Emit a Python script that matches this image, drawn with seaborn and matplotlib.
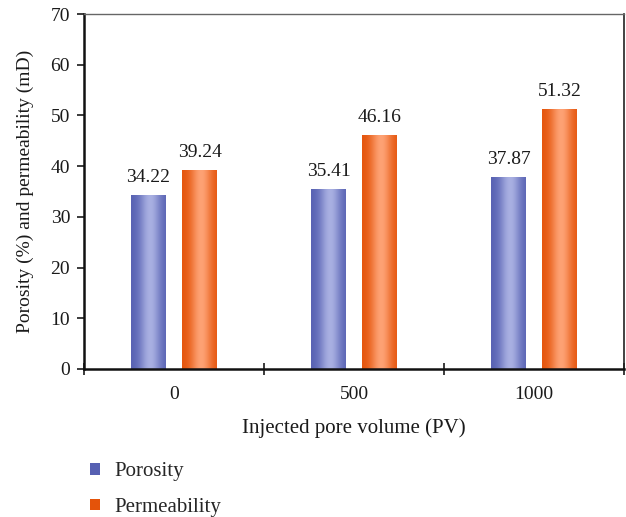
import numpy as np
import pandas as pd
import matplotlib
matplotlib.use("Agg")
import matplotlib.pyplot as plt
import seaborn as sns
from matplotlib.colors import to_rgb
from matplotlib.patches import Patch

# Injected pore volume levels and measured properties
volumes = ["0", "500", "1000"]
porosity = [34.22, 35.41, 37.87]
permeability = [39.24, 46.16, 51.32]
series = ["Porosity", "Permeability"]

sns.set_theme(style="white")
plt.rcParams["font.family"] = ["Liberation Serif", "DejaVu Serif"]

df = pd.DataFrame({
    "volume": volumes * 2,
    "value": porosity + permeability,
    "series": [series[0]] * 3 + [series[1]] * 3,
})

# dark edge / light centre tones of each bar
shades = {
    "Porosity": ("#5660b2", "#a9b0e2"),
    "Permeability": ("#e4530a", "#fea274"),
}

fig = plt.figure(figsize=(6.26, 5.17), dpi=100)
ax = fig.add_axes([0.1342, 0.2863, 0.8626, 0.6866])

sns.barplot(data=df, x="volume", y="value", hue="series", order=volumes,
            hue_order=series, palette={k: v[0] for k, v in shades.items()},
            width=0.567, gap=0.33, ax=ax, legend=False, saturation=1,
            linewidth=0, errorbar=None)

def gradient(dark, light, n=256):
    t = np.linspace(0, 1, n)
    w = np.exp(-((t - 0.55) / 0.30) ** 2)
    d, l = np.array(to_rgb(dark)), np.array(to_rgb(light))
    return (d[None, :] * (1 - w[:, None]) + l[None, :] * w[:, None])[None, :, :]

for name, container in zip(series, ax.containers):
    img = gradient(*shades[name])
    for bar in container:
        x0, y0 = bar.get_x(), bar.get_y()
        x1, y1 = x0 + bar.get_width(), y0 + bar.get_height()
        im = ax.imshow(img, extent=(x0, x1, y0, y1), aspect="auto",
                       zorder=bar.get_zorder() + 0.1, interpolation="bilinear")
        im.set_clip_path(bar)
        ax.annotate(f"{bar.get_height():.2f}", (x0 + bar.get_width() / 2, y1),
                    xytext=(0, 6.5), textcoords="offset points",
                    ha="center", va="bottom", fontsize=14, color="#1a1a1a")

ax.set_xlim(-0.5, 2.5)
ax.set_ylim(0, 70)
ax.set_yticks(range(0, 71, 10))
ax.set_xticks([0, 1, 2])
ax.set_xticks([-0.5, 0.5, 1.5, 2.5], minor=True)
ax.tick_params(axis="x", which="major", length=0, labelsize=14, pad=12,
               colors="#1a1a1a")
ax.tick_params(axis="x", which="minor", length=8, width=1.2,
               direction="inout", color="#1a1a1a", bottom=True)
ax.tick_params(axis="y", length=5, width=1.2, direction="out", pad=5,
               labelsize=14, color="#1a1a1a", labelcolor="#1a1a1a", left=True)

ax.set_xlabel("Injected pore volume (PV)", fontsize=15, color="#1a1a1a",
              labelpad=11)
ax.set_ylabel("Porosity (%) and permeability (mD)", fontsize=14,
              color="#1a1a1a", labelpad=12)

for side in ("left", "bottom"):
    ax.spines[side].set_color("#111111")
    ax.spines[side].set_linewidth(1.8)
ax.spines["top"].set_color("#666666")
ax.spines["top"].set_linewidth(1.0)
ax.spines["right"].set_color("#222222")
ax.spines["right"].set_linewidth(1.2)
for s in ax.spines.values():
    s.set_visible(True)

handles = [Patch(facecolor=shades[s][0], edgecolor="none") for s in series]
fig.legend(handles, series, loc="upper left",
           bbox_to_anchor=(0.143, 0.106), bbox_transform=fig.transFigure,
           frameon=False, fontsize=15, handlelength=0.48, handleheight=0.48,
           handletextpad=0.72, labelspacing=0.8, borderaxespad=0,
           borderpad=0)

fig.savefig("out.png", dpi=100)
